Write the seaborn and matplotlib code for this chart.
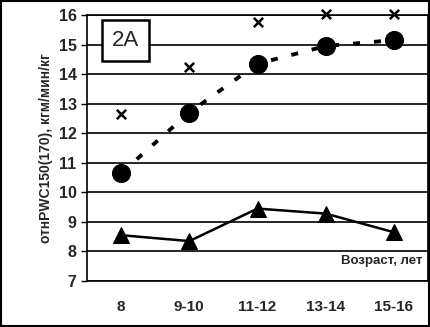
import matplotlib
matplotlib.use('Agg')
import matplotlib.pyplot as plt
import seaborn as sns
import pandas as pd

# Data
ages = ['8', '9-10', '11-12', '13-14', '15-16']
circles = [10.65, 12.7, 14.35, 14.95, 15.15]
crosses = [12.65, 14.25, 15.75, 16.05, 16.05]
triangles = [8.55, 8.35, 9.45, 9.28, 8.65]

df = pd.DataFrame({'age': ages, 'circ': circles, 'cross': crosses, 'tri': triangles})

sns.set_style('white')
plt.rcParams['font.family'] = ['Liberation Sans', 'DejaVu Sans']
plt.rcParams['font.weight'] = 'bold'

fig = plt.figure(figsize=(4.3, 3.27), dpi=100)
ax = fig.add_axes([87 / 430, 1 - 281 / 327, 341 / 430, 266 / 327])

x = list(range(len(ages)))
sns.lineplot(x=x, y=df['circ'], ax=ax, color='black', lw=2.8, linestyle=(0, (1.8, 3.6)),
             marker='o', markersize=13, markeredgecolor='black', zorder=3)
sns.lineplot(x=x, y=df['tri'], ax=ax, color='black', lw=1.8,
             marker='^', markersize=12, markeredgecolor='black', zorder=3)
sns.scatterplot(x=x, y=df['cross'], ax=ax, color='black', marker='x', s=45,
                linewidth=1.8, zorder=3, clip_on=False)

ax.set_xlim(-0.5, 4.5)
ax.set_ylim(7, 16)
ax.set_yticks(range(7, 17))
ax.yaxis.grid(True, color='black', lw=1.2)
ax.set_xticks(x)
ax.set_xticklabels(ages, fontweight='bold')
ax.set_yticklabels([str(v) for v in range(7, 17)], fontweight='bold')
ax.set_xticks([i + 0.5 for i in range(-1, 5)], minor=True)
ax.tick_params(axis='x', which='major', length=0, pad=14, labelsize=11)
ax.tick_params(axis='x', which='minor', length=5, width=1, color='black', direction='out')
ax.tick_params(axis='y', length=4, width=1, color='black', labelsize=11.5, direction='out', left=True)
for s in ax.spines.values():
    s.set_color('black')
    s.set_linewidth(1.2)
ax.set_xlabel('')
ax.set_ylabel('отнPWC150(170), кгм/мин/кг', fontsize=10, fontweight='bold', labelpad=4)

ax.text(0.985, 0.075, 'Возраст, лет', transform=ax.transAxes, ha='right', va='center',
        fontsize=9.5, fontweight='bold')
ax.text(0.114, 0.905, '2A', transform=ax.transAxes, ha='center', va='center', fontsize=16,
        fontweight='normal',
        bbox=dict(boxstyle='square,pad=0.45', fc='white', ec='black', lw=1.8))

fig.patches.append(plt.Rectangle((0.002, 0.002), 0.996, 0.996, transform=fig.transFigure,
                                 fill=False, ec='black', lw=1.5))

fig.savefig('out.png', dpi=100)
